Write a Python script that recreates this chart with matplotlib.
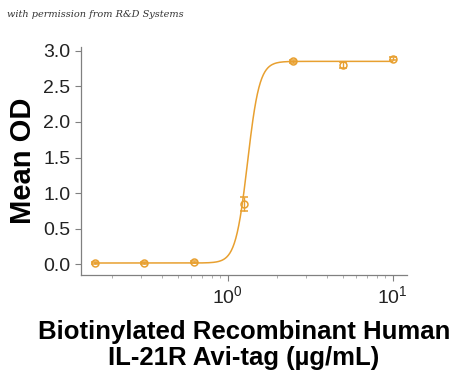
import numpy as np
import matplotlib
matplotlib.use("Agg")
import matplotlib.pyplot as plt

plt.rcParams["font.family"] = ["Liberation Sans", "DejaVu Sans"]

conc = [0.156, 0.3125, 0.625, 1.25, 2.5, 5.0, 10.0]
mean_od = [0.02, 0.02, 0.04, 0.85, 2.85, 2.80, 2.89]
sd_od = [0.01, 0.01, 0.015, 0.10, 0.02, 0.04, 0.025]

# 4PL fit parameters
fit_bottom = 0.02
fit_top = 2.85
fit_ec50 = 1.32
fit_hill = 12.0

colour = "#E8A030"

fig = plt.figure(figsize=(4.5, 3.8), dpi=100)
ax = fig.add_axes([0.18, 0.276, 0.724, 0.6])

xfit = np.logspace(np.log10(0.156), np.log10(10), 400)
yfit = fit_bottom + (fit_top - fit_bottom) / (1 + (fit_ec50 / xfit) ** fit_hill)
ax.plot(xfit, yfit, color=colour, lw=1.1)
ax.errorbar(conc, mean_od, yerr=sd_od, fmt="o", mfc="none", mec=colour,
            ms=5, mew=1.1, ecolor=colour, elinewidth=1.0, capsize=3)

ax.set_xscale("log")
ax.set_xlim(0.129, 12.2)
ax.set_ylim(-0.15, 3.05)
ax.set_yticks([0.0, 0.5, 1.0, 1.5, 2.0, 2.5, 3.0])
ax.set_yticklabels(["0.0", "0.5", "1.0", "1.5", "2.0", "2.5", "3.0"])
ax.set_xticks([1, 10])

for side in ["top", "right"]:
    ax.spines[side].set_visible(False)
for side in ["left", "bottom"]:
    ax.spines[side].set_color("#808080")
    ax.spines[side].set_linewidth(0.9)
ax.tick_params(axis="both", which="major", colors="#808080", labelcolor="#222222",
               labelsize=14, length=4)
ax.tick_params(axis="x", which="minor", colors="#a0a0a0", length=2.5)

ax.set_ylabel("Mean OD", fontsize=21, fontweight="bold", labelpad=5)
ax.set_xlabel("Biotinylated Recombinant Human\nIL-21R Avi-tag (\u00b5g/mL)",
              fontsize=18.5, fontweight="bold", labelpad=9, linespacing=1.1)

fig.text(0.015, 0.962, "with permission from R&D Systems", fontsize=7,
         style="italic", family=["DejaVu Serif"], color="#333333", va="center")

fig.savefig("out.png", dpi=100)
